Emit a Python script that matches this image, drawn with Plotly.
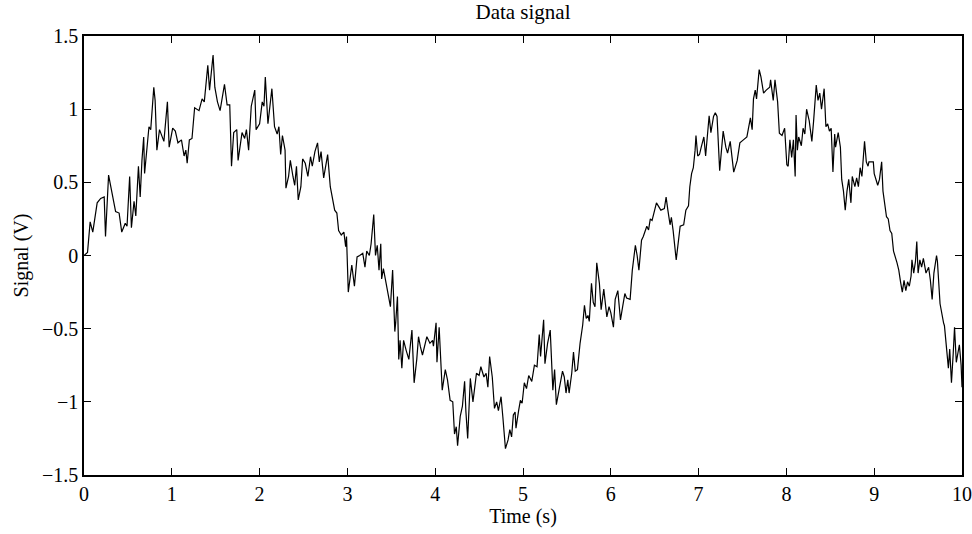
import plotly.graph_objects as go

time_s = [
    0.0, 0.04, 0.07, 0.10, 0.15, 0.19, 0.23, 0.245, 0.28, 0.32, 0.36, 0.40, 0.43, 0.47, 0.49,
    0.52, 0.54, 0.57, 0.59, 0.62, 0.64, 0.66, 0.68, 0.69, 0.72, 0.74, 0.76, 0.795, 0.81, 0.83,
    0.86, 0.91, 0.95, 0.97, 1.01, 1.04, 1.07, 1.11, 1.14, 1.16, 1.175, 1.20, 1.23, 1.26,
    1.31, 1.345, 1.37, 1.41, 1.43, 1.47, 1.49, 1.52, 1.55, 1.60, 1.63, 1.66, 1.68, 1.705, 1.74,
    1.755, 1.80, 1.83, 1.85, 1.875, 1.905, 1.945, 1.96, 2.00, 2.03, 2.05, 2.065, 2.095, 2.14,
    2.17, 2.20, 2.22, 2.24, 2.26, 2.29, 2.30, 2.33, 2.35, 2.38, 2.40, 2.42, 2.44, 2.47, 2.49,
    2.52, 2.55, 2.58,
    2.60, 2.63, 2.66, 2.68, 2.70, 2.73, 2.775, 2.805, 2.83, 2.855, 2.88, 2.90, 2.93, 2.96, 2.98,
    2.99, 3.01, 3.05, 3.08, 3.11, 3.14, 3.175, 3.20, 3.22, 3.25, 3.27, 3.30, 3.32, 3.34, 3.36,
    3.38, 3.39, 3.41, 3.44, 3.46, 3.49, 3.515, 3.54, 3.55, 3.57, 3.585, 3.60, 3.62, 3.64, 3.67,
    3.70, 3.735, 3.76, 3.79, 3.81, 3.83,
    3.855, 3.905, 3.94, 3.97, 3.98, 4.01, 4.02, 4.045, 4.08, 4.115, 4.14, 4.17, 4.20, 4.22, 4.24,
    4.255, 4.285, 4.31, 4.335, 4.35, 4.37, 4.40, 4.43, 4.47, 4.50, 4.52, 4.555, 4.58, 4.60, 4.62,
    4.65, 4.675, 4.70, 4.72, 4.75, 4.77, 4.80, 4.83, 4.85, 4.87, 4.89, 4.91, 4.92, 4.95, 4.97,
    4.99, 5.015, 5.04, 5.065,
    5.10, 5.13, 5.16, 5.185, 5.20, 5.235, 5.25, 5.28, 5.31, 5.34, 5.36, 5.38, 5.41, 5.45, 5.47,
    5.49, 5.51, 5.525, 5.555, 5.575, 5.595, 5.62, 5.65, 5.68, 5.70, 5.72, 5.74, 5.755, 5.78, 5.80,
    5.82, 5.84, 5.87, 5.89, 5.92, 5.955, 5.98, 6.00, 6.03, 6.05, 6.08, 6.11, 6.135, 6.16, 6.18,
    6.22, 6.245, 6.28, 6.30, 6.32,
    6.35, 6.37, 6.41, 6.43, 6.45, 6.47, 6.52, 6.54, 6.57, 6.61, 6.63, 6.65, 6.675, 6.69, 6.71,
    6.745, 6.77, 6.79, 6.83, 6.855, 6.885, 6.90, 6.92, 6.94, 6.96, 6.97, 6.99, 7.01, 7.03, 7.06,
    7.08, 7.105, 7.12, 7.14, 7.17, 7.19, 7.21, 7.24, 7.26, 7.28, 7.31, 7.33, 7.36, 7.40, 7.44,
    7.47, 7.51, 7.55, 7.59,
    7.61, 7.625, 7.645, 7.66, 7.69, 7.71, 7.74, 7.77, 7.81, 7.82, 7.85, 7.87, 7.90, 7.92, 7.95,
    7.98, 8.005, 8.02, 8.04, 8.06, 8.08, 8.10, 8.11, 8.125, 8.14, 8.17, 8.19, 8.21, 8.23, 8.26,
    8.29, 8.31, 8.34, 8.36, 8.38, 8.40, 8.43, 8.45, 8.47, 8.49, 8.51, 8.53, 8.55, 8.56, 8.59,
    8.615, 8.63, 8.65, 8.67, 8.69, 8.71, 8.735, 8.75, 8.78, 8.80, 8.82, 8.84,
    8.86, 8.89, 8.91, 8.93, 8.94, 8.99, 9.00, 9.04, 9.06, 9.085, 9.10, 9.14, 9.16, 9.18, 9.20,
    9.22, 9.26, 9.28, 9.30, 9.32, 9.34, 9.36, 9.38, 9.40, 9.42, 9.43, 9.45, 9.47, 9.485, 9.50,
    9.52, 9.54, 9.56, 9.59, 9.62, 9.64, 9.66, 9.68, 9.71, 9.72, 9.75, 9.76, 9.79, 9.80, 9.825,
    9.845, 9.86, 9.88, 9.90, 9.915, 9.935, 9.955, 9.97, 9.99, 10.0,
]

signal_v = [
    0.0, 0.02, 0.23, 0.16, 0.36, 0.39, 0.40, 0.13, 0.55, 0.43, 0.30, 0.29, 0.16, 0.22, 0.20,
    0.54, 0.19, 0.37, 0.27, 0.61, 0.40, 0.65, 0.81, 0.56, 0.79, 0.88, 0.86, 1.15, 1.06, 0.72,
    0.86, 0.78, 1.05, 0.74, 0.87, 0.85, 0.77, 0.79, 0.68, 0.72, 0.63, 0.79, 0.80, 1.01,
    0.99, 1.07, 1.05, 1.30, 1.13, 1.37, 1.15, 1.05, 0.99, 1.17, 1.03, 1.03, 0.61, 0.84, 0.86,
    0.65, 0.84, 0.80, 0.86, 0.72, 1.02, 1.13, 0.86, 0.90, 1.05, 1.02, 1.22, 0.90, 1.14,
    0.88, 0.83, 0.88, 0.69, 0.82, 0.72, 0.46, 0.54, 0.65, 0.54, 0.48, 0.61, 0.38, 0.47, 0.66,
    0.63, 0.54, 0.675,
    0.61, 0.71, 0.77, 0.64, 0.71, 0.53, 0.69, 0.47, 0.40, 0.31, 0.29, 0.17, 0.14, 0.16, 0.06,
    0.13, -0.25, -0.065, -0.21, -0.01, 0.0, 0.015, -0.08, 0.03, 0.0, 0.08, 0.28, 0.0, 0.07, -0.10,
    0.08, -0.16, -0.09, -0.19, -0.23, -0.35, -0.10, -0.52, -0.46, -0.28, -0.71, -0.58, -0.77, -0.58, -0.65,
    -0.71, -0.51, -0.87, -0.71, -0.555, -0.62,
    -0.68, -0.555, -0.60, -0.58, -0.62, -0.46, -0.73, -0.49, -0.92, -0.78, -0.85, -0.99, -1.00, -1.22, -1.17,
    -1.30, -1.10, -1.03, -0.86, -1.07, -1.25, -0.84, -1.00, -0.805, -0.82, -0.76, -0.83, -0.805, -0.90, -0.69,
    -0.83, -1.045, -1.00, -1.06, -0.965, -1.10, -1.32, -1.26, -1.19, -1.24, -1.09, -1.07, -1.18, -1.06, -0.99,
    -1.01, -0.87, -0.91, -0.82,
    -0.86, -0.75, -0.76, -0.54, -0.69, -0.44, -0.74, -0.60, -0.51, -0.92, -0.78, -1.02, -0.92, -0.79, -0.83,
    -0.94, -0.85, -0.94, -0.805, -0.66, -0.79, -0.78, -0.60, -0.475, -0.34, -0.43, -0.41, -0.45, -0.19, -0.32,
    -0.35, -0.05, -0.19, -0.37, -0.23, -0.42, -0.35, -0.39, -0.49, -0.30, -0.24, -0.44, -0.35, -0.26, -0.29,
    -0.30, -0.10, 0.07, 0.0, -0.10,
    0.105, 0.13, 0.20, 0.175, 0.25, 0.24, 0.36, 0.34, 0.31, 0.32, 0.40, 0.31, 0.21, 0.26, 0.17,
    -0.03, 0.10, 0.20, 0.21, 0.31, 0.34, 0.47, 0.56, 0.60, 0.72, 0.82, 0.68, 0.69, 0.74, 0.81,
    0.68, 0.86, 0.955, 0.84, 0.95, 0.975, 0.95, 0.58, 0.72, 0.85, 0.74, 0.70, 0.78, 0.57, 0.65,
    0.77, 0.79, 0.81, 0.94,
    0.86, 1.07, 1.13, 1.07, 1.27, 1.22, 1.11, 1.13, 1.15, 1.20, 1.06, 1.20, 1.05, 0.835, 0.82,
    0.87, 0.62, 0.61, 0.79, 0.67, 0.79, 0.54, 0.96, 0.72, 0.81, 0.75, 0.87, 0.83, 1.00, 0.92,
    0.78, 0.92, 1.165, 1.06, 1.11, 1.00, 1.14, 0.88, 0.90, 0.85, 0.87, 0.57, 0.83, 0.74, 0.84,
    0.74, 0.52, 0.44, 0.31, 0.44, 0.52, 0.36, 0.54, 0.47, 0.53, 0.47, 0.60,
    0.54, 0.78, 0.64, 0.61, 0.64, 0.64, 0.56, 0.48, 0.52, 0.64, 0.44, 0.265, 0.25, 0.17, 0.15,
    0.03, -0.05, -0.10, -0.18, -0.25, -0.17, -0.24, -0.18, -0.21, -0.14, -0.03, -0.12, -0.04, 0.095, -0.12,
    -0.03, -0.08, -0.02, -0.12, -0.08, -0.17, -0.30, -0.12, 0.0, -0.04, -0.33, -0.37, -0.46, -0.48, -0.62,
    -0.77, -0.64, -0.87, -0.67, -0.49, -0.73, -0.67, -0.61, -0.75, -0.90,
]

x_ticks = [0, 1, 2, 3, 4, 5, 6, 7, 8, 9, 10]
y_ticks = [-1.5, -1, -0.5, 0, 0.5, 1, 1.5]
y_tick_labels = ["\u22121.5", "\u22121", "\u22120.5", "0", "0.5", "1", "1.5"]

FONT = "Liberation Serif, DejaVu Serif, serif"

fig = go.Figure()
fig.add_trace(go.Scatter(
    x=time_s, y=signal_v, mode="lines",
    line=dict(color="black", width=1.2),
    showlegend=False, hoverinfo="x+y",
))

axis_common = dict(
    showline=True, linecolor="black", linewidth=1.5, mirror="allticks",
    ticks="inside", ticklen=7, tickwidth=1.2, tickcolor="black",
    showgrid=False, zeroline=False, automargin=False,
    tickfont=dict(family=FONT, size=20, color="black"),
)

fig.update_layout(
    width=972, height=534,
    margin=dict(l=84, r=10, t=36, b=59),
    paper_bgcolor="white", plot_bgcolor="white",
    title=dict(text="Data signal", x=0.5, xref="paper", xanchor="center",
               y=0.978, yref="container", yanchor="middle",
               font=dict(family=FONT, size=21, color="black")),
    xaxis=dict(range=[0, 10], tickvals=x_ticks, ticklabelstandoff=0,
               title=dict(text="Time (s)", standoff=4,
                          font=dict(family=FONT, size=20, color="black")),
               **axis_common),
    yaxis=dict(range=[-1.5, 1.5], tickvals=y_ticks, ticktext=y_tick_labels,
               title=dict(text="Signal (V)", standoff=8,
                          font=dict(family=FONT, size=20, color="black")),
               **axis_common),
)

fig.write_html("out.html", config={"displayModeBar": False},
               post_script="document.body.style.margin='0';")
